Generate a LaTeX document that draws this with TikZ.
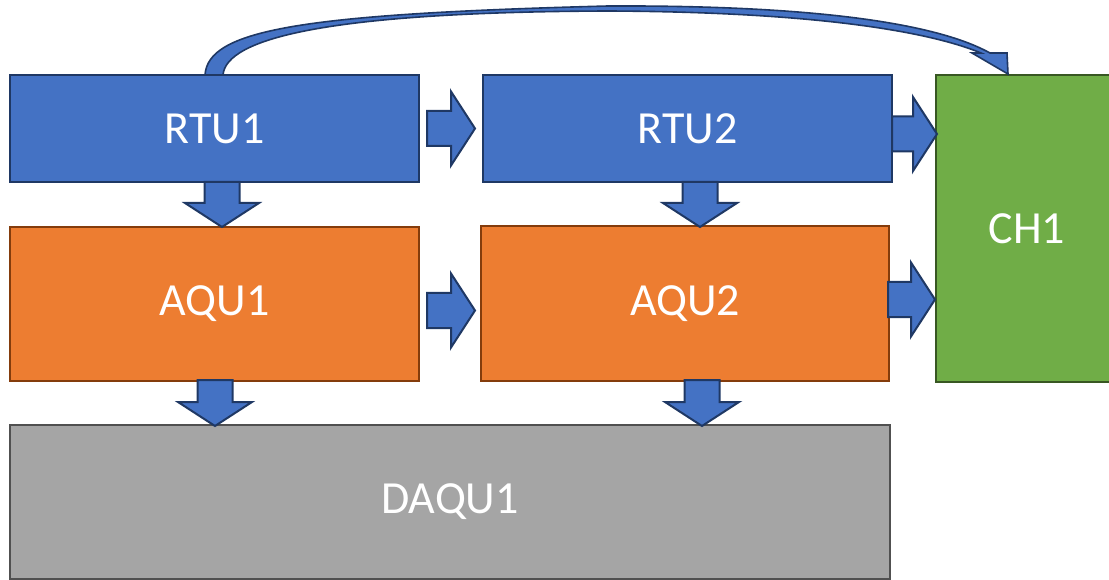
\documentclass[tikz,border=0pt]{standalone}
\usepackage{fontspec}
\setmainfont{Carlito}
\usetikzlibrary{calc}

\definecolor{bluefill}{HTML}{4472C4}
\definecolor{blueline}{HTML}{1F3864}
\definecolor{orangefill}{HTML}{ED7D31}
\definecolor{orangeline}{HTML}{843C0C}
\definecolor{greenfill}{HTML}{70AD47}
\definecolor{greenline}{HTML}{385723}
\definecolor{grayfill}{HTML}{A5A5A5}
\definecolor{grayline}{HTML}{505050}

\tikzset{
  unit/.style={draw, line width=2.2pt, outer sep=0pt, inner sep=0pt,
    anchor=north west, text=white, font=\fontsize{46}{55}\selectfont},
  rtubox/.style={unit, fill=bluefill, draw=blueline},
  aqubox/.style={unit, fill=orangefill, draw=orangeline},
  chbox/.style={unit, fill=greenfill, draw=greenline},
  daqbox/.style={unit, fill=grayfill, draw=grayline},
  blockarrow/.style={draw=blueline, fill=bluefill, line width=2pt, line join=miter},
}

% block arrow: tail centre, rotation, shaft length
\newcommand\blockarrow[3]{%
  \draw[blockarrow, shift={#1}, rotate=#2]
    (0,-17.5) -- (#3,-17.5) -- (#3,-37) -- ({#3+24},0) -- (#3,37)
    -- (#3,17.5) -- (0,17.5) -- cycle;}

\begin{document}
\begin{tikzpicture}[x=1pt, y=-1pt]
  \useasboundingbox (0,0) rectangle (1109,580);
  \clip (0,0) rectangle (1109,580);

  % units
  \node[rtubox, minimum width=409pt, minimum height=107pt] (rtu1) at (10,75) {RTU1};
  \node[rtubox, minimum width=409pt, minimum height=107pt] (rtu2) at (483,75) {RTU2};
  \node[chbox, minimum width=182pt, minimum height=307pt] (ch1) at (936,75) {CH1};
  \node[aqubox, minimum width=409pt, minimum height=154pt] (aqu1) at (10,227) {AQU1};
  \node[aqubox, minimum width=408pt, minimum height=155pt] (aqu2) at (481,226) {AQU2};
  \node[daqbox, minimum width=880pt, minimum height=154pt] (daqu1) at (10,425) {DAQU1};

  % horizontal block arrows
  \blockarrow{($(rtu1.east)+(8,0)$)}{0}{24}
  \blockarrow{($(rtu2.east)+(0,5.5)$)}{0}{21}
  \blockarrow{($(aqu1.east)+(8,6.5)$)}{0}{24}
  \blockarrow{($(aqu2.east)+(-1,-4)$)}{0}{23}

  % vertical block arrows
  \blockarrow{($(rtu1.south)+(7.5,0)$)}{-90}{21}
  \blockarrow{($(rtu2.south)+(12.5,0)$)}{-90}{21}
  \blockarrow{($(aqu1.south)+(0.5,-1)$)}{-90}{22}
  \blockarrow{($(aqu2.south)+(17,-1)$)}{-90}{22}

  % curved arrow from RTU1 over to CH1
  \coordinate (cs) at ($(rtu1.north west)+(195,0)$);
  \coordinate (ce) at ($(ch1.north west)+(72,-1)$);
  \draw[blockarrow, line width=1.6pt]
    (cs) .. controls (208,30) and (300,14) .. (608,6)
    .. controls (840,5) and (945,28) .. (990,53)
    -- (1007,53) -- (ce) -- (972,53) -- (981,53)
    .. controls (935,34) and (830,12) .. (608,11)
    .. controls (330,12) and (226,38) .. ($(cs)+(18,0)$) -- cycle;
\end{tikzpicture}
\end{document}
